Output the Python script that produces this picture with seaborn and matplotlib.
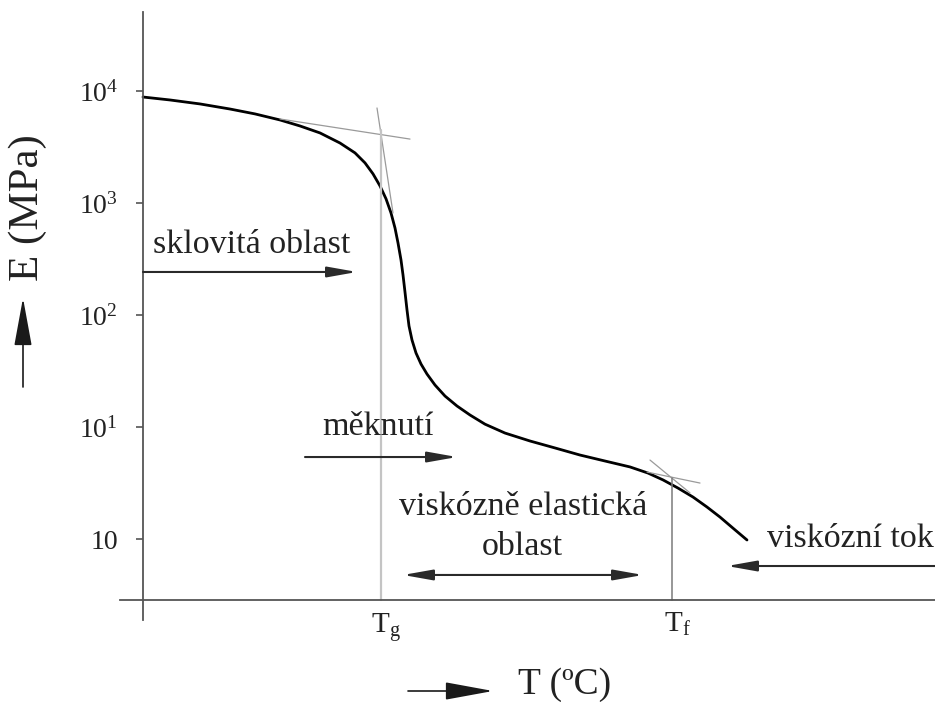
import numpy as np
import pandas as pd
import matplotlib
matplotlib.use("Agg")
import matplotlib.pyplot as plt
import seaborn as sns

# ---- data (schematic modulus vs. temperature curve) ----
T_values = [0, 27, 57, 87, 112, 137, 157, 177, 197, 212, 222, 230, 237, 243,
            248, 252, 255, 258, 260, 262, 264, 266, 269, 273, 278, 284, 292,
            302, 314, 327, 342, 362, 387, 412, 437, 462, 487, 505, 520, 535,
            550, 564, 577, 590, 604]
E_values = [8830, 8310, 7660, 6900, 6240, 5510, 4870, 4220, 3430, 2800, 2280,
            1820, 1420, 1090, 815, 598, 440, 310, 228, 160, 111, 79.8, 59.8,
            45.8, 36.5, 29.7, 23.7, 18.9, 15.4, 12.8, 10.6, 8.83, 7.50, 6.50,
            5.62, 4.97, 4.40, 3.88, 3.37, 2.85, 2.37, 1.93, 1.57, 1.25, 0.98]
ytick_values = [1e4, 1e3, 1e2, 1e1, 1e0]
ytick_labels = [r"$10^{4}$", r"$10^{3}$", r"$10^{2}$", r"$10^{1}$", "10"]
Tg, Tf = 238, 529
xtick_labels = [r"T$_{\mathrm{g}}$", r"T$_{\mathrm{f}}$"]
# tangent construction lines (T, E)
tan_glass = ([137, 267], [5620, 3720])
tan_drop = ([234, 250], [7050, 815])
tan_f1 = ([507, 547], [5.07, 2.58])
tan_f2 = ([504, 557], [3.96, 3.16])

sns.set_theme(style="white")
plt.rcParams["font.family"] = ["Liberation Serif", "DejaVu Serif"]
plt.rcParams["mathtext.fontset"] = "custom"
plt.rcParams["mathtext.rm"] = "Liberation Serif"
plt.rcParams["mathtext.it"] = "Liberation Serif:italic"

fig = plt.figure(figsize=(9.35, 7.02), dpi=100)
ax = fig.add_axes([120 / 935, 82 / 702, 815 / 935, 608 / 702])

df = pd.DataFrame({"T": T_values, "E": E_values})
sns.lineplot(data=df, x="T", y="E", ax=ax, color="black", lw=2.0, sort=False,
             estimator=None)
ax.lines[-1].set_solid_joinstyle("round")

ax.set_yscale("log")
ax.set_xlim(-23, 792)
ax.set_ylim(10 ** -0.723, 10 ** 4.705)
y_axis = 10 ** -0.545

# construction lines
for xs, ys in (tan_glass, tan_drop, tan_f1, tan_f2):
    ax.plot(xs, ys, color="#9a9a9a", lw=0.9)
ax.plot([Tg, Tg], [4490, y_axis], color="#c4c4c4", lw=1.6)
ax.plot([Tf, Tf], [3.5, y_axis], color="#7a7a7a", lw=1.1)

# spines
for s in ("top", "right"):
    ax.spines[s].set_visible(False)
ax.spines["left"].set_position(("data", 0))
ax.spines["bottom"].set_position(("data", y_axis))
for s in ("left", "bottom"):
    ax.spines[s].set_color("#555555")
    ax.spines[s].set_linewidth(1.3)

ax.set_yticks(ytick_values)
ax.set_yticklabels(ytick_labels)
ax.yaxis.set_minor_locator(matplotlib.ticker.NullLocator())
ax.tick_params(axis="y", which="major", left=True, length=5, width=1.2,
               color="#555555", pad=13, labelsize=20, labelcolor="#222222")
ax.set_xticks([Tg, Tf])
ax.set_xticklabels(xtick_labels)
ax.tick_params(axis="x", bottom=False, length=0, pad=8, labelsize=21,
               labelcolor="#222222")
offset = matplotlib.transforms.ScaledTranslation(5 / 100, 0, fig.dpi_scale_trans)
for lab in ax.get_xticklabels():
    lab.set_transform(lab.get_transform() + offset)
ax.set_xlabel("")
ax.set_ylabel("")

txt_kw = dict(fontsize=24.5, color="#222222")
arrow_kw = dict(arrowstyle="-|>,head_length=18,head_width=3.2", mutation_scale=1,
                color="#2a2a2a", lw=1.5, shrinkA=0, shrinkB=0)
dbl_kw = dict(arrow_kw, arrowstyle="<|-|>,head_length=18,head_width=3.2")

ax.text(10, 10 ** 2.554, "sklovitá oblast", ha="left", va="baseline", **txt_kw)
ax.annotate("", xy=(214, 10 ** 2.384), xytext=(0, 10 ** 2.384), arrowprops=arrow_kw)

ax.text(179, 10 ** 0.929, "měknutí", ha="left", va="baseline", **txt_kw)
ax.annotate("", xy=(314, 10 ** 0.732), xytext=(162, 10 ** 0.732), arrowprops=arrow_kw)

ax.text(380, 10 ** 0.214, "viskózně elastická", ha="center", va="baseline", **txt_kw)
ax.text(379, 10 ** -0.143, "oblast", ha="center", va="baseline", **txt_kw)
ax.annotate("", xy=(500, 10 ** -0.321), xytext=(260, 10 ** -0.321), arrowprops=dbl_kw)

ax.text(624, 10 ** -0.071, "viskózní tok", ha="left", va="baseline", **txt_kw)
ax.annotate("", xy=(584, 10 ** -0.241), xytext=(792, 10 ** -0.241), arrowprops=arrow_kw,
            annotation_clip=False)

# axis titles with arrows (figure coordinates)
big_arrow = dict(arrowstyle="-|>,head_length=30,head_width=5.5", mutation_scale=1,
                 color="#1a1a1a", lw=1.2, shrinkA=0, shrinkB=0)
fig.text(518 / 935, 8 / 702, "T (ºC)", ha="left", va="baseline", fontsize=27,
         color="#222222")
ax.annotate("", xy=(493 / 935, 11 / 702), xytext=(408 / 935, 11 / 702),
            xycoords="figure fraction", textcoords="figure fraction",
            arrowprops=big_arrow, annotation_clip=False)
fig.text(28 / 935, 494 / 702, "E (MPa)", ha="center", va="center", rotation=90,
         fontsize=31, color="#222222")
ax.annotate("", xy=(23 / 935, 404 / 702), xytext=(23 / 935, 315 / 702),
            xycoords="figure fraction", textcoords="figure fraction",
            arrowprops=big_arrow, annotation_clip=False)

fig.savefig("out.png", dpi=100)
